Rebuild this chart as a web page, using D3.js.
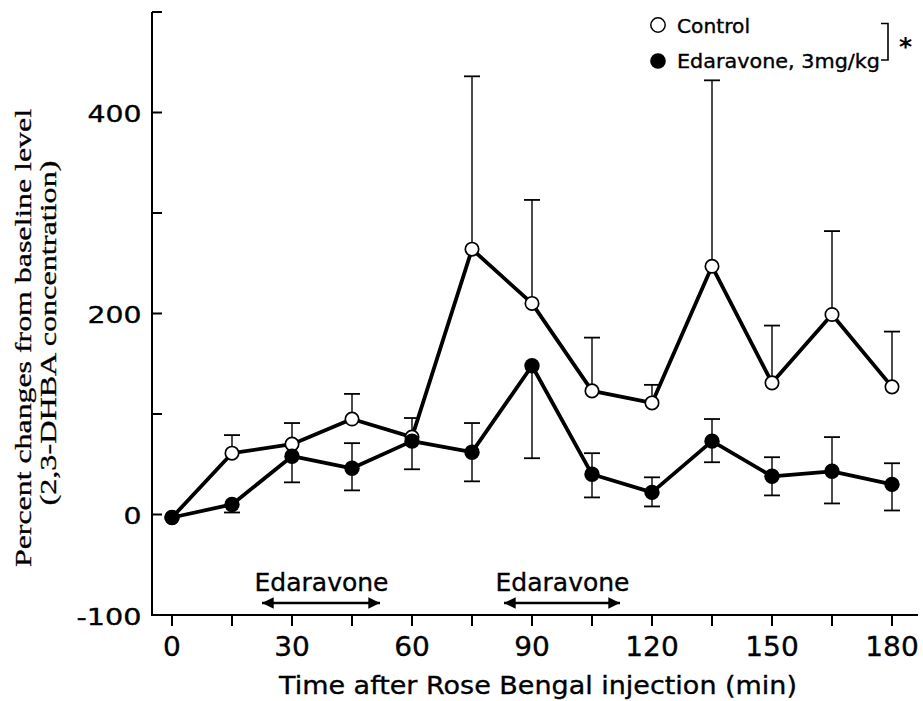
<!DOCTYPE html>
<html>
<head>
<meta charset="utf-8">
<script src="https://cdn.jsdelivr.net/npm/d3@7/dist/d3.min.js"></script>
<style>
  html, body { margin: 0; padding: 0; background: #fff; }
  svg { display: block; }
  .lbl { stroke: #000; stroke-width: 0.35px; }
</style>
</head>
<body>
<svg id="chart" width="923" height="701"></svg>
<script>
// Sampling times (min after Rose Bengal injection)
const times = [0, 15, 30, 45, 60, 75, 90, 105, 120, 135, 150, 165, 180];

// Control group: mean % change and top of the SE bar
const controlMean  = [-3, 61, 70, 95, 77, 264, 210, 123, 111, 247, 131, 199, 127];
const controlUpper = [null, 79, 91, 120, 96, 436, 313, 176, 129, 432, 188, 282, 182];

// Edaravone 3 mg/kg group: mean % change and SE bar ends
const edaravoneMean  = [-3, 10, 58, 46, 73, 62, 148, 40, 22, 73, 38, 43, 30];
const edaravoneUpper = [null, null, null, 71, null, 91, null, 61, 37, 95, 57, 77, 51];
const edaravoneLower = [null, 2, 32, 24, 45, 33, 56, 17, 8, 52, 19, 11, 4];

// Drug administration windows (min)
const dosingWindows = [[22.5, 52], [83, 112]];
const dosingLabel = "Edaravone";

// Axis ticks
const xTicks = [0, 15, 30, 45, 60, 75, 90, 105, 120, 135, 150, 165, 180];
const xTickLabels = [0, 30, 60, 90, 120, 150, 180];
const yTicks = [-100, 0, 100, 200, 300, 400, 500];
const yTickLabels = [-100, 0, 200, 400];

const legendLabels = ["Control", "Edaravone, 3mg/kg"];
const xTitle = "Time after Rose Bengal injection (min)";
const yTitle = ["Percent changes from baseline level", "(2,3-DHBA concentration)"];

const svg = d3.select("#chart");
const sans = "'DejaVu Sans', sans-serif";
const serif = "'Liberation Serif', 'DejaVu Serif', serif";

const x = d3.scaleLinear().domain([0, 180]).range([172, 892]);
const y = d3.scaleLinear().domain([-100, 500]).range([615, 12]);

const axisLeftX = 152;
const axisBottomY = y(-100);

// width helper for the wide gothic-style digits
function labelWidth(s, digitW, minusW) {
  let w = 0;
  for (const c of String(s)) w += (c === "-") ? minusW : digitW;
  return w;
}

// ---- Y axis ----
const yAxisG = svg.append("g").attr("transform", `translate(${axisLeftX},0)`);
yAxisG.append("line")
  .attr("x1", 0).attr("x2", 0)
  .attr("y1", y(500)).attr("y2", axisBottomY)
  .attr("stroke", "#000").attr("stroke-width", 2);
yAxisG.selectAll("line.tick").data(yTicks).join("line")
  .attr("class", "tick")
  .attr("x1", 0).attr("x2", 10)
  .attr("y1", d => y(d)).attr("y2", d => y(d))
  .attr("stroke", "#000").attr("stroke-width", 2);
yAxisG.selectAll("text").data(yTickLabels).join("text")
  .attr("class", "lbl")
  .attr("x", -10.5)
  .attr("y", d => y(d) + 9.5)
  .attr("text-anchor", "end")
  .attr("font-family", sans)
  .attr("font-size", 23)
  .attr("textLength", d => labelWidth(d, 18, 11))
  .attr("lengthAdjust", "spacingAndGlyphs")
  .text(d => d);

// ---- X axis ----
const xAxisG = svg.append("g");
xAxisG.append("line")
  .attr("x1", axisLeftX - 1).attr("x2", 918)
  .attr("y1", axisBottomY).attr("y2", axisBottomY)
  .attr("stroke", "#000").attr("stroke-width", 2);
xAxisG.selectAll("line.tick").data(xTicks).join("line")
  .attr("class", "tick")
  .attr("x1", d => x(d)).attr("x2", d => x(d))
  .attr("y1", axisBottomY).attr("y2", axisBottomY + 11)
  .attr("stroke", "#000").attr("stroke-width", 2);
xAxisG.selectAll("text").data(xTickLabels).join("text")
  .attr("class", "lbl")
  .attr("x", d => x(d))
  .attr("y", 656)
  .attr("text-anchor", "middle")
  .attr("font-family", sans)
  .attr("font-size", 27)
  .attr("textLength", d => labelWidth(d, 17.8, 11))
  .attr("lengthAdjust", "spacingAndGlyphs")
  .text(d => d);

// Axis titles
svg.append("text")
  .attr("class", "lbl")
  .attr("x", 538).attr("y", 694)
  .attr("text-anchor", "middle")
  .attr("font-family", sans)
  .attr("font-size", 25)
  .attr("textLength", 518)
  .attr("lengthAdjust", "spacingAndGlyphs")
  .text(xTitle);

const yTitleG = svg.append("g");
yTitleG.append("text")
  .attr("transform", "translate(31,338) rotate(-90)")
  .attr("text-anchor", "middle")
  .attr("font-family", serif)
  .attr("font-size", 24)
  .attr("stroke", "#000").attr("stroke-width", 0.3)
  .attr("textLength", 458)
  .attr("lengthAdjust", "spacingAndGlyphs")
  .text(yTitle[0]);
yTitleG.append("text")
  .attr("transform", "translate(56,333) rotate(-90)")
  .attr("text-anchor", "middle")
  .attr("font-family", serif)
  .attr("font-size", 24)
  .attr("stroke", "#000").attr("stroke-width", 0.3)
  .attr("textLength", 345)
  .attr("lengthAdjust", "spacingAndGlyphs")
  .text(yTitle[1]);

// ---- Dosing windows ----
const defs = svg.append("defs");
["start", "end"].forEach(k => {
  defs.append("marker")
    .attr("id", "arrow-" + k)
    .attr("viewBox", "0 0 10 10")
    .attr("refX", 10).attr("refY", 5)
    .attr("markerWidth", 7).attr("markerHeight", 4.5)
    .attr("markerUnits", "strokeWidth")
    .attr("orient", k === "start" ? "auto-start-reverse" : "auto")
    .append("path")
    .attr("d", "M0,0 L10,5 L0,10 Z")
    .attr("fill", "#000");
});
const doseG = svg.append("g");
doseG.selectAll("line").data(dosingWindows).join("line")
  .attr("x1", d => x(d[0])).attr("x2", d => x(d[1]))
  .attr("y1", 603).attr("y2", 603)
  .attr("stroke", "#000").attr("stroke-width", 2.6)
  .attr("marker-start", "url(#arrow-start)")
  .attr("marker-end", "url(#arrow-end)");
doseG.selectAll("text").data(dosingWindows).join("text")
  .attr("class", "lbl")
  .attr("x", d => (x(d[0]) + x(d[1])) / 2 + 0.5)
  .attr("y", 591)
  .attr("text-anchor", "middle")
  .attr("font-family", sans)
  .attr("font-size", 25)
  .attr("textLength", 134)
  .attr("lengthAdjust", "spacingAndGlyphs")
  .text(dosingLabel);

// ---- Error bars ----
const capHalf = 8;
function errorBars(g, ends, means) {
  const data = times.map((t, i) => ({ t, m: means[i], e: ends[i] })).filter(d => d.e !== null);
  g.selectAll(null).data(data).join("line")
    .attr("x1", d => x(d.t)).attr("x2", d => x(d.t))
    .attr("y1", d => y(d.m)).attr("y2", d => y(d.e))
    .attr("stroke", "#000").attr("stroke-width", 1.4);
  g.selectAll(null).data(data).join("line")
    .attr("x1", d => x(d.t) - capHalf).attr("x2", d => x(d.t) + capHalf)
    .attr("y1", d => y(d.e)).attr("y2", d => y(d.e))
    .attr("stroke", "#000").attr("stroke-width", 1.8);
}
const errG = svg.append("g");
errorBars(errG.append("g"), controlUpper, controlMean);
errorBars(errG.append("g"), edaravoneUpper, edaravoneMean);
errorBars(errG.append("g"), edaravoneLower, edaravoneMean);

// ---- Lines ----
const line = d3.line().x(d => x(d[0])).y(d => y(d[1]));
const controlPts = times.map((t, i) => [t, controlMean[i]]);
const edaravonePts = times.map((t, i) => [t, edaravoneMean[i]]);

svg.append("path").datum(controlPts)
  .attr("d", line).attr("fill", "none")
  .attr("stroke", "#000").attr("stroke-width", 3.8).attr("stroke-linejoin", "round");
svg.append("path").datum(edaravonePts)
  .attr("d", line).attr("fill", "none")
  .attr("stroke", "#000").attr("stroke-width", 3.8).attr("stroke-linejoin", "round");

// ---- Markers ----
svg.append("g").selectAll("circle").data(controlPts).join("circle")
  .attr("cx", d => x(d[0])).attr("cy", d => y(d[1]))
  .attr("r", 6.7).attr("fill", "#fff").attr("stroke", "#000").attr("stroke-width", 1.7);
svg.append("g").selectAll("circle").data(edaravonePts).join("circle")
  .attr("cx", d => x(d[0])).attr("cy", d => y(d[1]))
  .attr("r", 7.7).attr("fill", "#000");

// ---- Legend ----
const legend = svg.append("g");
legend.append("circle").attr("cx", 658).attr("cy", 25).attr("r", 7.2)
  .attr("fill", "#fff").attr("stroke", "#000").attr("stroke-width", 1.5);
legend.append("circle").attr("cx", 658).attr("cy", 61).attr("r", 7.8).attr("fill", "#000");
legend.append("text").attr("class", "lbl").attr("x", 677).attr("y", 33)
  .attr("font-family", sans).attr("font-size", 19)
  .attr("textLength", 73).attr("lengthAdjust", "spacingAndGlyphs")
  .text(legendLabels[0]);
legend.append("text").attr("class", "lbl").attr("x", 677).attr("y", 68)
  .attr("font-family", sans).attr("font-size", 19)
  .attr("textLength", 203).attr("lengthAdjust", "spacingAndGlyphs")
  .text(legendLabels[1]);
legend.append("path")
  .attr("d", "M881,23.5 H888 V60 H881")
  .attr("fill", "none").attr("stroke", "#000").attr("stroke-width", 1.6);
legend.append("text").attr("x", 899).attr("y", 55)
  .attr("font-family", sans).attr("font-size", 25).attr("font-weight", "bold")
  .text("*");
</script>
</body>
</html>
